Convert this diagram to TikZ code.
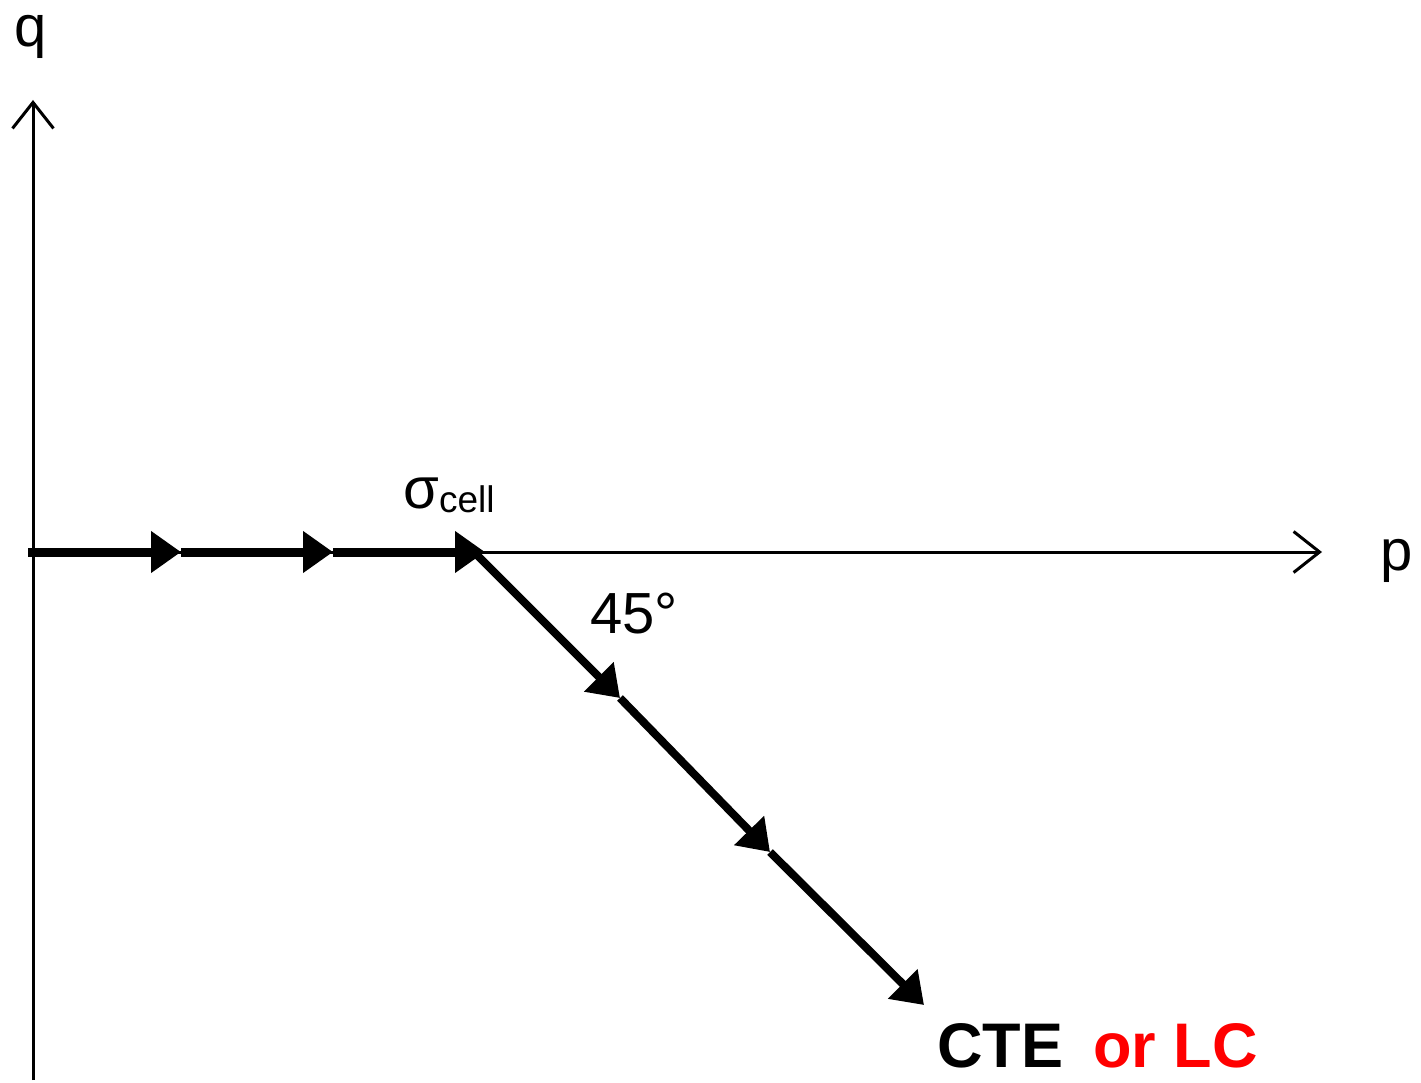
\documentclass[tikz,border=0pt]{standalone}
\usepackage{fontspec}
\setmainfont{Liberation Sans}
\usetikzlibrary{arrows.meta}
\begin{document}
\begin{tikzpicture}[x=1pt,y=-1pt,
  axis/.style={line width=3pt,-{Straight Barb[length=26pt,width=41pt,line width=3pt]}},
  pathseg/.style={line width=8pt,-{Triangle[length=30pt,width=40pt]}},
  lbl/.style={inner sep=0pt,font=\fontsize{58}{60}\selectfont}]
\useasboundingbox (0,0) rectangle (1421,1083);
% axes
\coordinate (o) at (28,552);
\coordinate (pend) at (1322,552);
\coordinate (qbot) at (33,1080);
\coordinate (qtop) at (33,100);
\draw[axis] (qbot) -- (qtop);
\draw[axis] (o) -- (pend);
% stress path
\coordinate (h1) at (181,552);
\coordinate (h2) at (333,552);
\coordinate (h3) at (485,552);
\coordinate (d0) at (478,556);
\coordinate (d1) at (620,698);
\coordinate (d2) at (770,852);
\coordinate (d3) at (924,1005);
\draw[pathseg,line width=9pt] (o) -- (h1);
\draw[pathseg,line width=9pt] (h1) -- (h2);
\draw[pathseg,line width=9pt] (h2) -- (h3);
\draw[pathseg,line cap=round] (d0) -- (d1);
\draw[pathseg] (d1) -- (d2);
\draw[pathseg] (d2) -- (d3);
% labels
\node[lbl,anchor=base] (q) at (31,47) {q};
\node[lbl,anchor=base] (p) at (1397,570) {p};
\node[lbl,anchor=base west] (sig) at (403,508) {σ\raisebox{-4pt}{\fontsize{37}{40}\selectfont cell}};
\node[lbl,anchor=base west] (ang) at (590,633) {45°};
\node[lbl,anchor=base west,font=\fontsize{63}{66}\selectfont\bfseries] (cte) at (937,1067) {CTE};
\node[lbl,anchor=base west,font=\fontsize{63}{66}\selectfont\bfseries,text=red] (lc) at (1093,1067) {or LC};
\end{tikzpicture}
\end{document}
